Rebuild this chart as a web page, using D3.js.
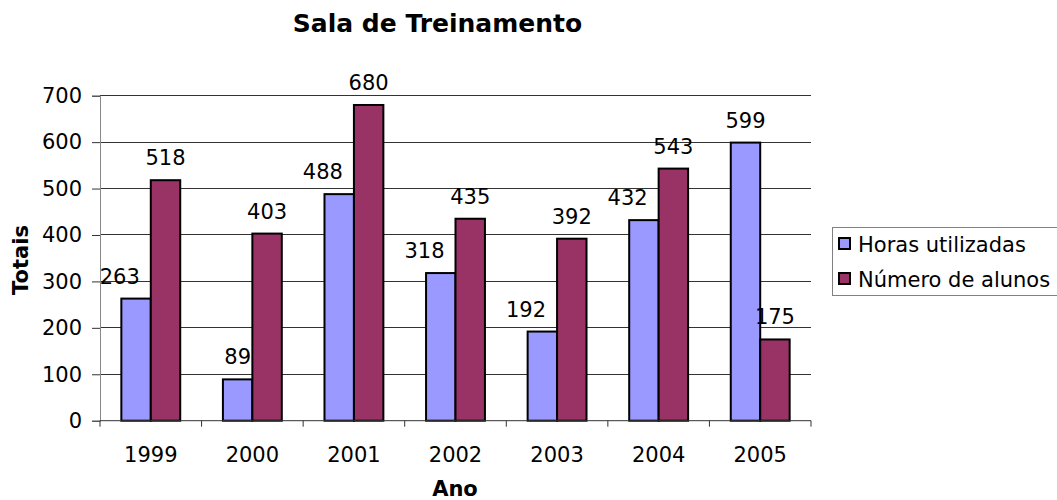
<!DOCTYPE html>
<html>
<head>
<meta charset="utf-8">
<script src="https://cdn.jsdelivr.net/npm/d3@7"></script>
<style>
  html, body { margin: 0; padding: 0; background: #fff; }
  svg { display: block; font-family: "DejaVu Sans", Verdana, sans-serif; }
</style>
</head>
<body>
<svg id="chart" width="1057" height="500"></svg>
<script>
const categories = ["1999", "2000", "2001", "2002", "2003", "2004", "2005"];
const seriesNames = ["Horas utilizadas", "Número de alunos"];
const horasUtilizadas = [263, 89, 488, 318, 192, 432, 599];
const numeroAlunos = [518, 403, 680, 435, 392, 543, 175];
const yTicks = [0, 100, 200, 300, 400, 500, 600, 700];
const colors = ["#9999FF", "#993366"];

const svg = d3.select("#chart");
const pLeft = 100, pRight = 811, pTop = 95.7, pBottom = 420.7;

const x = d3.scaleBand().domain(categories).range([pLeft, pRight]).padding(0);
const y = d3.scaleLinear().domain([0, 700]).range([pBottom, pTop]);
const barW = x.step() / 3.45;

// gridlines
svg.append("g").selectAll("line").data(yTicks.filter(d => d > 0)).join("line")
  .attr("x1", pLeft).attr("x2", pRight)
  .attr("y1", d => y(d)).attr("y2", d => y(d))
  .attr("stroke", "#333").attr("stroke-width", 1).attr("shape-rendering", "crispEdges");

// y axis
const yAxis = svg.append("g").attr("transform", `translate(${pLeft},0)`)
  .call(d3.axisLeft(y).tickValues(yTicks).tickSize(8).tickPadding(10));
yAxis.select(".domain").attr("stroke", "#888");
yAxis.selectAll(".tick line").attr("stroke", "#333");
yAxis.selectAll("text").attr("font-size", 21).attr("fill", "#000")
  .attr("font-family", "DejaVu Sans, Verdana, sans-serif");

// bars
const series = [horasUtilizadas, numeroAlunos];
series.forEach((vals, si) => {
  svg.append("g").selectAll("rect").data(categories).join("rect")
    .attr("x", c => x(c) + x.step() / 2 - barW + si * barW)
    .attr("y", (c, i) => y(vals[i]))
    .attr("width", barW)
    .attr("height", (c, i) => pBottom - y(vals[i]))
    .attr("fill", colors[si])
    .attr("stroke", "#000").attr("stroke-width", 2);
});

// x axis
svg.append("line").attr("x1", pLeft).attr("x2", pRight).attr("y1", pBottom).attr("y2", pBottom)
  .attr("stroke", "#333").attr("stroke-width", 1);
const bounds = categories.map(c => x(c)).concat([pRight]);
svg.append("g").selectAll("line").data(bounds).join("line")
  .attr("x1", d => d).attr("x2", d => d)
  .attr("y1", pBottom).attr("y2", pBottom + 6)
  .attr("stroke", "#333");
svg.append("g").selectAll("text").data(categories).join("text")
  .attr("x", c => x(c) + x.step() / 2).attr("y", 461.5)
  .attr("text-anchor", "middle").attr("font-size", 21).text(c => c);

// value labels
const labG = svg.append("g");
series.forEach((vals, si) => {
  categories.forEach((c, i) => {
    const cx = x(c) + x.step() / 2 - barW / 2 + si * barW;
    const t = labG.append("text")
      .attr("x", cx).attr("y", y(vals[i]) - 15)
      .attr("text-anchor", "middle").attr("font-size", 21).text(vals[i]);
    if (si === 0 && numeroAlunos[i] > vals[i]) {
      const w = t.node().getComputedTextLength();
      if (w > barW) {
        t.attr("text-anchor", "end").attr("x", x(c) + x.step() / 2 - 11);
      }
    }
  });
});

// title and axis titles
svg.append("text").attr("x", 437.5).attr("y", 32).attr("text-anchor", "middle")
  .attr("font-size", 25).attr("font-weight", "bold").text("Sala de Treinamento");
svg.append("text").attr("x", 455).attr("y", 496).attr("text-anchor", "middle")
  .attr("font-size", 21).attr("font-weight", "bold").text("Ano");
svg.append("text").attr("transform", "translate(28,260) rotate(-90)").attr("text-anchor", "middle")
  .attr("font-size", 21).attr("font-weight", "bold").text("Totais");

// legend
const lg = svg.append("g");
lg.append("rect").attr("x", 832.5).attr("y", 227.5).attr("width", 240).attr("height", 68)
  .attr("fill", "#fff").attr("stroke", "#808080").attr("stroke-width", 1);
seriesNames.forEach((n, i) => {
  const cy = 244 + i * 35;
  lg.append("rect").attr("x", 839).attr("y", cy - 6).attr("width", 11).attr("height", 11)
    .attr("fill", colors[i]).attr("stroke", "#000").attr("stroke-width", 2);
  lg.append("text").attr("x", 858).attr("y", cy).attr("dy", "0.36em")
    .attr("font-size", 21).text(n);
});
</script>
</body>
</html>
